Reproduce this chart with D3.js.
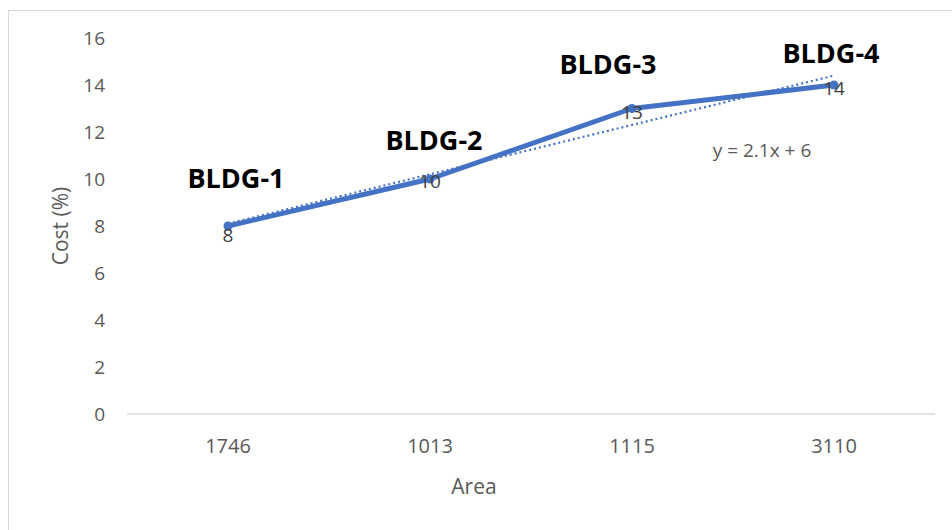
<!DOCTYPE html>
<html>
<head>
<meta charset="utf-8">
<script src="https://cdn.jsdelivr.net/npm/d3@7"></script>
<style>
  html, body { margin: 0; padding: 0; background: #fff; }
  svg { display: block; }
</style>
</head>
<body>
<svg id="chart" width="952" height="530"></svg>
<script>
// Area categories, cost values and building names
const areas = ["1746", "1013", "1115", "3110"];
const costs = [8, 10, 13, 14];
const buildings = ["BLDG-1", "BLDG-2", "BLDG-3", "BLDG-4"];
const yTicks = [0, 2, 4, 6, 8, 10, 12, 14, 16];
// Linear trendline y = slope * x + intercept, x = 1..n
const trendSlope = 2.1;
const trendIntercept = 6;
const trendLabel = "y = 2.1x + 6";

const svg = d3.select("#chart");
const plot = { left: 127, right: 935, top: 38, bottom: 414 };
const font = "'Open Sans', 'Noto Sans', sans-serif";
const blue = "#4472C4";
const grey = "#595959";

// chart frame
svg.append("rect")
  .attr("x", 8.5).attr("y", 10.5)
  .attr("width", 1000).attr("height", 600)
  .attr("fill", "#fff").attr("stroke", "#d9d9d9").attr("stroke-width", 1);

const x = d3.scaleBand().domain(areas).range([plot.left, plot.right]).padding(0);
const y = d3.scaleLinear().domain([0, 16]).range([plot.bottom, plot.top]);
const cx = a => x(a) + x.bandwidth() / 2;

// y axis labels
const yAxis = svg.append("g")
  .attr("transform", `translate(${plot.left - 22},0)`)
  .call(d3.axisLeft(y).tickValues(yTicks).tickSize(0).tickPadding(0));
yAxis.select(".domain").remove();
yAxis.selectAll("text")
  .attr("font-family", font).attr("font-size", 19).attr("fill", grey);

// baseline at zero
svg.append("line")
  .attr("x1", plot.left).attr("x2", plot.right)
  .attr("y1", y(0)).attr("y2", y(0))
  .attr("stroke", "#d9d9d9").attr("stroke-width", 1.3);

// x axis labels
const xAxis = svg.append("g")
  .attr("transform", `translate(0,${plot.bottom})`)
  .call(d3.axisBottom(x).tickSize(0).tickPadding(25));
xAxis.select(".domain").remove();
xAxis.selectAll("text")
  .attr("font-family", font).attr("font-size", 20).attr("fill", grey);

// axis titles
svg.append("text")
  .attr("x", 474).attr("y", 494)
  .attr("text-anchor", "middle")
  .attr("font-family", font).attr("font-size", 21).attr("fill", grey)
  .text("Area");
svg.append("text")
  .attr("transform", `translate(68,${(plot.top + plot.bottom) / 2}) rotate(-90)`)
  .attr("text-anchor", "middle")
  .attr("font-family", font).attr("font-size", 21).attr("fill", grey)
  .text("Cost (%)");

// cost line
const line = d3.line().x((d, i) => cx(areas[i])).y(d => y(d));
svg.append("path")
  .datum(costs)
  .attr("d", line)
  .attr("fill", "none").attr("stroke", blue)
  .attr("stroke-width", 5).attr("stroke-linejoin", "round");
svg.selectAll(".pt").data(costs).enter().append("circle")
  .attr("cx", (d, i) => cx(areas[i])).attr("cy", d => y(d))
  .attr("r", 4.5).attr("fill", blue);

// dotted trendline
const trend = areas.map((a, i) => trendSlope * (i + 1) + trendIntercept);
svg.append("path")
  .datum(trend)
  .attr("d", line)
  .attr("fill", "none").attr("stroke", blue)
  .attr("stroke-width", 2.2).attr("stroke-dasharray", "2,3");

// value labels
const valDy = [16, 9, 10, 10];
svg.selectAll(".val").data(costs).enter().append("text")
  .attr("x", (d, i) => cx(areas[i])).attr("y", (d, i) => y(d) + valDy[i])
  .attr("text-anchor", "middle")
  .attr("font-family", font).attr("font-size", 19).attr("fill", "#404040")
  .text(d => d);

// building name labels
const nameDx = [8, 4, -24, -3];
const nameDy = [-38, -29, -35, -22];
svg.selectAll(".name").data(buildings).enter().append("text")
  .attr("x", (d, i) => cx(areas[i]) + nameDx[i])
  .attr("y", (d, i) => y(costs[i]) + nameDy[i])
  .attr("text-anchor", "middle")
  .attr("font-family", font).attr("font-size", 27).attr("font-weight", "bold")
  .attr("fill", "#000")
  .text(d => d);

// trendline equation
svg.append("text")
  .attr("x", 762).attr("y", 157)
  .attr("text-anchor", "middle")
  .attr("font-family", font).attr("font-size", 19).attr("fill", grey)
  .text(trendLabel);
</script>
</body>
</html>
